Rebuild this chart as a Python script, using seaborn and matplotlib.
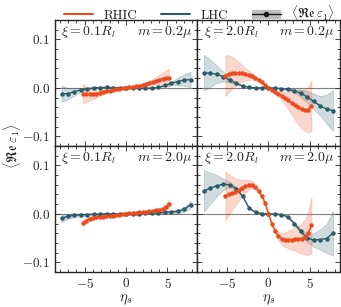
import matplotlib
matplotlib.use("Agg")
import matplotlib.pyplot as plt
import seaborn as sns
import numpy as np
from matplotlib.lines import Line2D
from matplotlib.patches import Patch

# eta grids
eta_lhc = [-7.8, -7.02, -6.24, -5.46, -4.68, -3.9, -3.12, -2.34, -1.56, -0.78, 0.0,
           0.78, 1.56, 2.34, 3.12, 3.9, 4.68, 5.46, 6.24, 7.02, 7.8]
eta_rhic = [-5.2, -4.8, -4.4, -4.0, -3.6, -3.2, -2.8, -2.4, -2.0, -1.6, -1.2, -0.8, -0.4, 0.0,
            0.4, 0.8, 1.2, 1.6, 2.0, 2.4, 2.8, 3.2, 3.6, 4.0, 4.4, 4.8, 5.2]

# xi = 0.1 R_l, m = 0.2 mu
lhc_tl = [-0.0125, -0.012, -0.008, -0.004, -0.002, 0.0, 0.0005, 0.0007, 0.0005, 0.0003, 0.0,
          -0.0005, -0.001, -0.001, -0.0005, 0.001, 0.005, 0.009, 0.013, 0.016, 0.017]
lhc_tl_err = [0.017, 0.012, 0.008, 0.004, 0.002, 0.001, 0.001, 0.001, 0.001, 0.001, 0.001,
              0.001, 0.001, 0.001, 0.001, 0.001, 0.002, 0.004, 0.008, 0.012, 0.016]
rhic_tl = [-0.012, -0.0135, -0.0135, -0.013, -0.012, -0.0105, -0.009, -0.0075, -0.006, -0.0045,
           -0.003, -0.002, -0.001, 0.0, 0.001, 0.002, 0.003, 0.0045, 0.006, 0.008, 0.010, 0.012,
           0.0145, 0.017, 0.019, 0.020, 0.021]
rhic_tl_err = [0.020, 0.015, 0.012, 0.010, 0.008, 0.006, 0.005, 0.004, 0.003, 0.002, 0.0015,
               0.001, 0.001, 0.001, 0.001, 0.001, 0.0015, 0.002, 0.003, 0.004, 0.005, 0.006,
               0.008, 0.010, 0.012, 0.015, 0.019]

# xi = 2.0 R_l, m = 0.2 mu
lhc_tr = [0.031, 0.030, 0.028, 0.023, 0.016, 0.009, 0.004, 0.001, 0.0, 0.0, 0.0,
          -0.0005, -0.0015, -0.003, -0.006, -0.011, -0.019, -0.028, -0.037, -0.044, -0.047]
lhc_tr_err = [0.037, 0.028, 0.018, 0.010, 0.005, 0.003, 0.001, 0.001, 0.001, 0.001, 0.001,
              0.001, 0.001, 0.002, 0.003, 0.008, 0.012, 0.016, 0.020, 0.030, 0.042]
rhic_tr = [0.025, 0.029, 0.031, 0.031, 0.031, 0.030, 0.028, 0.026, 0.024, 0.020, 0.016, 0.011,
           0.006, 0.0, -0.004, -0.008, -0.012, -0.016, -0.021, -0.026, -0.031, -0.036, -0.040,
           -0.044, -0.046, -0.045, -0.037]
rhic_tr_err = [0.042, 0.038, 0.034, 0.028, 0.022, 0.017, 0.013, 0.010, 0.007, 0.005, 0.003,
               0.002, 0.001, 0.001, 0.002, 0.004, 0.006, 0.009, 0.013, 0.018, 0.024, 0.030,
               0.036, 0.040, 0.043, 0.047, 0.052]

# xi = 0.1 R_l, m = 2.0 mu
lhc_bl = [-0.009, -0.005, -0.003, -0.002, -0.0015, -0.001, -0.0005, 0.0, 0.0, 0.0, 0.0,
          0.0, 0.0005, 0.001, 0.0015, 0.002, 0.003, 0.004, 0.005, 0.009, 0.019]
lhc_bl_err = [0.008, 0.005, 0.004, 0.003, 0.0025, 0.002, 0.002, 0.002, 0.002, 0.002, 0.002,
              0.002, 0.002, 0.002, 0.002, 0.002, 0.0025, 0.003, 0.004, 0.005, 0.008]
rhic_bl = [-0.019, -0.014, -0.010, -0.008, -0.007, -0.006, -0.0055, -0.005, -0.004, -0.0035,
           -0.0025, -0.002, -0.001, 0.0, 0.001, 0.0015, 0.002, 0.003, 0.0035, 0.0045, 0.005,
           0.006, 0.007, 0.008, 0.0095, 0.014, 0.021]
rhic_bl_err = [0.007, 0.005, 0.004, 0.003, 0.003, 0.0025, 0.002, 0.002, 0.002, 0.002, 0.002,
               0.002, 0.002, 0.002, 0.002, 0.002, 0.002, 0.002, 0.002, 0.002, 0.002,
               0.0025, 0.003, 0.004, 0.005, 0.006, 0.008]

# xi = 2.0 R_l, m = 2.0 mu
lhc_br = [0.047, 0.053, 0.058, 0.061, 0.060, 0.052, 0.036, 0.012, 0.003, 0.0005, 0.0,
          -0.0005, -0.0015, -0.006, -0.020, -0.036, -0.050, -0.054, -0.053, -0.051, -0.040]
lhc_br_err = [0.043, 0.032, 0.022, 0.012, 0.006, 0.003, 0.001, 0.001, 0.001, 0.001, 0.001,
              0.001, 0.001, 0.002, 0.003, 0.005, 0.009, 0.014, 0.021, 0.030, 0.046]
rhic_br = [0.037, 0.040, 0.042, 0.045, 0.049, 0.053, 0.057, 0.060, 0.060, 0.056, 0.048, 0.037,
           0.022, 0.0, -0.020, -0.035, -0.046, -0.051, -0.053, -0.053, -0.053, -0.052, -0.052,
           -0.051, -0.048, -0.040, -0.024]
rhic_br_err = [0.050, 0.042, 0.035, 0.028, 0.022, 0.017, 0.013, 0.010, 0.008, 0.006, 0.005,
               0.004, 0.003, 0.002, 0.004, 0.006, 0.009, 0.012, 0.015, 0.018, 0.021, 0.024,
               0.027, 0.031, 0.036, 0.045, 0.058]

xi_labels = [r'$\xi = 0.1R_l$', r'$\xi = 2.0R_l$']
m_labels = [r'$m = 0.2\mu$', r'$m = 2.0\mu$']

panels = [[(lhc_tl, lhc_tl_err, rhic_tl, rhic_tl_err), (lhc_tr, lhc_tr_err, rhic_tr, rhic_tr_err)],
          [(lhc_bl, lhc_bl_err, rhic_bl, rhic_bl_err), (lhc_br, lhc_br_err, rhic_br, rhic_br_err)]]

c_rhic = '#ec4a1c'
c_lhc = '#2b5b69'

sns.set_theme(style='ticks')
plt.rcParams['font.family'] = 'serif'
plt.rcParams['font.serif'] = ['cmr10', 'DejaVu Serif']
plt.rcParams['mathtext.fontset'] = 'cm'
plt.rcParams['axes.formatter.use_mathtext'] = True
plt.rcParams['xtick.direction'] = 'in'
plt.rcParams['ytick.direction'] = 'in'
plt.rcParams['xtick.top'] = True
plt.rcParams['ytick.right'] = True
plt.rcParams['xtick.minor.visible'] = True
plt.rcParams['ytick.minor.visible'] = True

fig, axes = plt.subplots(2, 2, figsize=(3.41, 3.07), dpi=100, sharex=True, sharey=True)
fig.subplots_adjust(left=0.161, right=0.996, top=0.935, bottom=0.114, wspace=0, hspace=0)

for i in range(2):
    for j in range(2):
        ax = axes[i, j]
        lhc, lhc_err, rhic, rhic_err = panels[i][j]
        ax.axhline(0, color='0.5', lw=0.8, zorder=0)
        lo = np.array(lhc) - np.array(lhc_err)
        hi = np.array(lhc) + np.array(lhc_err)
        ax.fill_between(eta_lhc, lo, hi, color=c_lhc, alpha=0.22, lw=0.6)
        lo = np.array(rhic) - np.array(rhic_err)
        hi = np.array(rhic) + np.array(rhic_err)
        ax.fill_between(eta_rhic, lo, hi, color=c_rhic, alpha=0.22, lw=0.6)
        sns.lineplot(x=eta_lhc, y=lhc, ax=ax, color=c_lhc, lw=1.0, marker='o',
                     markersize=3.2, markeredgewidth=0)
        sns.lineplot(x=eta_rhic, y=rhic, ax=ax, color=c_rhic, lw=1.0, marker='o',
                     markersize=3.2, markeredgewidth=0)
        ax.text(0.045, 0.965, xi_labels[j], transform=ax.transAxes, ha='left', va='top', fontsize=10)
        ax.text(0.965, 0.965, m_labels[i], transform=ax.transAxes, ha='right', va='top', fontsize=10)
        ax.tick_params(which='both', labelsize=9.5, width=0.6)
        ax.tick_params(which='major', length=3.5)
        ax.tick_params(which='minor', length=2)
        for s in ax.spines.values():
            s.set_linewidth(1.0)

axes[0, 0].set_xlim(-8.6, 8.6)
axes[0, 0].set_ylim(-0.12, 0.14)
axes[0, 0].set_xticks([-5, 0, 5])
axes[0, 0].set_yticks([-0.1, 0.0, 0.1])
axes[0, 0].xaxis.set_minor_locator(matplotlib.ticker.MultipleLocator(1))
axes[0, 0].yaxis.set_minor_locator(matplotlib.ticker.MultipleLocator(0.02))
axes[0, 0].xaxis.set_major_formatter(matplotlib.ticker.FuncFormatter(lambda v, p: r'$%d$' % v))
axes[0, 0].yaxis.set_major_formatter(matplotlib.ticker.FuncFormatter(lambda v, p: r'$%.1f$' % v))

for j in range(2):
    axes[1, j].set_xlabel(r'$\eta_s$', fontsize=10.5, labelpad=1.5)
fig.text(0.035, 0.524, r'$\langle\mathfrak{Re}\,\varepsilon_1\rangle$', rotation=90,
         ha='center', va='center', fontsize=10)

handles = [Line2D([], [], color=c_rhic, lw=1.5),
           Line2D([], [], color=c_lhc, lw=1.5),
           (Patch(facecolor='0.75', edgecolor='none'),
            Line2D([], [], color='k', lw=1.0, marker='o', markersize=3))]
labels = ['RHIC', 'LHC', r'$\langle\mathfrak{Re}\,\varepsilon_1\rangle$']
fig.legend(handles, labels, loc='upper center', bbox_to_anchor=(0.585, 1.025), ncol=3,
           frameon=False, fontsize=9.5, handlelength=2.2, columnspacing=1.8, handletextpad=0.8)

fig.savefig('out.png', dpi=100)
